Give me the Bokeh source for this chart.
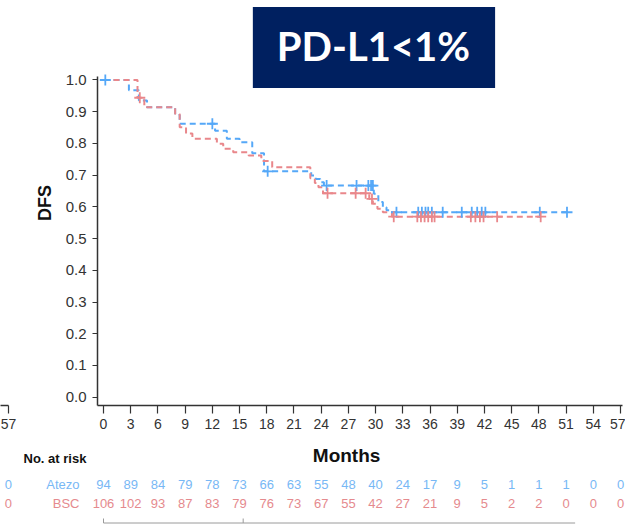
from bokeh.plotting import figure
from bokeh.layouts import column, row
from bokeh.models import Range1d, FixedTicker, PrintfTickFormatter, Label
from bokeh.core.properties import value
from bokeh.embed import file_html
from bokeh.resources import INLINE

# Kaplan-Meier step data: time of each step (months) and DFS after it
atezo_time = [0, 2.8, 3.9, 4.8, 7.9, 8.4, 12.3, 13.6, 15.0, 16.4, 17.7, 22.9, 23.4,
              23.9, 24.3, 29.8, 30.3, 30.8, 31.2, 31.8, 51.1]
atezo_surv = [1.0, 0.968, 0.935, 0.914, 0.89, 0.862, 0.84, 0.815, 0.804, 0.769, 0.712,
              0.699, 0.688, 0.678, 0.667, 0.641, 0.615, 0.599, 0.589, 0.583, 0.583]
bsc_time = [0, 3.75, 4.5, 7.9, 8.4, 9.1, 9.8, 12.5, 13.2, 14.3, 16.0, 17.4, 18.6,
            22.8, 23.3, 23.7, 24.2, 29.3, 29.7, 30.2, 30.8, 31.8, 48.2]
bsc_surv = [1.0, 0.944, 0.914, 0.893, 0.851, 0.831, 0.815, 0.799, 0.783, 0.772, 0.762,
            0.745, 0.725, 0.69, 0.675, 0.662, 0.643, 0.625, 0.61, 0.594, 0.583, 0.569, 0.569]

# censoring times
atezo_cens = [0.2, 12.0, 18.1, 24.6, 27.9, 29.2, 29.5, 29.7, 32.3, 34.7, 35.1, 35.5,
              35.8, 36.2, 37.4, 39.5, 40.6, 41.2, 41.7, 42.1, 48.1, 51.1]
bsc_cens = [4.0, 24.7, 27.8, 28.9, 29.6, 32.0, 34.6, 35.0, 35.4, 35.8, 36.2, 36.5,
            40.5, 41.0, 41.5, 41.9, 43.4, 48.2]

# number at risk table
risk_times = list(range(0, 58, 3))
atezo_risk = [94, 89, 84, 79, 78, 73, 66, 63, 55, 48, 40, 24, 17, 9, 5, 1, 1, 1, 0, 0]
bsc_risk = [106, 102, 93, 87, 83, 79, 76, 73, 67, 55, 42, 27, 21, 9, 5, 2, 2, 0, 0, 0]

y_ticks = [round(0.1 * i, 1) for i in range(11)]

BLUE = "#55A8F8"
RED = "#E9878B"
BLUE_TXT = "#78B8F5"
RED_TXT = "#E58A8E"
AXIS = "#333333"
FONT = "Liberation Sans"
PX_PER_MONTH = 9.07


def surv_at(times, survs, t):
    s = survs[0]
    for ti, si in zip(times, survs):
        if ti <= t:
            s = si
    return s


def style_xaxis(ax):
    ax.axis_line_color = AXIS
    ax.axis_line_width = 1.5
    ax.major_tick_line_color = AXIS
    ax.major_tick_line_width = 1.2
    ax.minor_tick_line_color = None
    ax.major_tick_in = 0
    ax.major_tick_out = 8
    ax.major_label_standoff = 5
    ax.major_label_text_color = AXIS
    ax.major_label_text_font = FONT
    ax.major_label_text_font_size = "14px"


# ---- main survival panel -------------------------------------------------
p = figure(width=605, height=440, output_backend="svg", toolbar_location=None,
           x_range=Range1d(-0.6615, 57.22), y_range=Range1d(-0.0262, 1.2506),
           min_border_left=77, min_border_right=3, min_border_top=0,
           min_border_bottom=35)
p.outline_line_color = None
p.grid.grid_line_color = None

p.xaxis.ticker = FixedTicker(ticks=risk_times)
style_xaxis(p.xaxis[0])
p.xaxis.bounds = (-0.6615, 57.22)

p.yaxis.ticker = FixedTicker(ticks=y_ticks)
p.yaxis.formatter = PrintfTickFormatter(format="%.1f")
p.yaxis.bounds = (-0.0262, 1.011)
p.yaxis.axis_line_color = AXIS
p.yaxis.axis_line_width = 1.5
p.yaxis.major_tick_line_color = AXIS
p.yaxis.major_tick_line_width = 1.2
p.yaxis.minor_tick_line_color = None
p.yaxis.major_tick_in = 0
p.yaxis.major_tick_out = 5
p.yaxis.major_label_standoff = 6
p.yaxis.major_label_text_color = AXIS
p.yaxis.major_label_text_font = FONT
p.yaxis.major_label_text_font_size = "15px"
p.yaxis.axis_label = "DFS"
p.yaxis.axis_label_text_font = FONT
p.yaxis.axis_label_text_font_style = "bold"
p.yaxis.axis_label_text_font_size = "18px"
p.yaxis.axis_label_text_color = "#111111"
p.yaxis.axis_label_standoff = 8

p.step(atezo_time, atezo_surv, mode="after", line_color=BLUE, line_width=2,
       line_dash="6 4")
p.step(bsc_time, bsc_surv, mode="after", line_color=RED, line_width=2,
       line_dash="6 4")
p.scatter(atezo_cens, [surv_at(atezo_time, atezo_surv, t) for t in atezo_cens],
          marker="cross", size=11, line_width=1.8, line_color=BLUE)
p.scatter(bsc_cens, [surv_at(bsc_time, bsc_surv, t) for t in bsc_cens],
          marker="cross", size=11, line_width=1.8, line_color=RED)

# subgroup banner
p.add_layout(Label(x=29.82, y=1.1025, text="PD-L1<1%", text_font="Lato",
                   text_font_style="bold", text_font_size="40px", text_color="white",
                   text_align="center", text_baseline="middle",
                   background_fill_color="#002060", padding=(24, 25, 15, 18)))

# ---- end of the neighbouring panel's time axis ----------------------------
edge_w = 20
edge_start = 57 - 8 / PX_PER_MONTH
edge = figure(width=edge_w, height=440, output_backend="svg", toolbar_location=None,
              x_range=Range1d(edge_start, edge_start + edge_w / PX_PER_MONTH),
              y_range=Range1d(0, 1), y_axis_location=None,
              min_border_left=0, min_border_right=0, min_border_top=0,
              min_border_bottom=35)
edge.outline_line_color = None
edge.grid.grid_line_color = None
edge.xaxis.ticker = FixedTicker(ticks=[57])
edge.xaxis.bounds = (edge_start - 1, 57)
style_xaxis(edge.xaxis[0])

# ---- number-at-risk table ------------------------------------------------
t = figure(width=625, height=84, output_backend="svg", toolbar_location=None,
           x_range=Range1d(-103 / PX_PER_MONTH, (625 - 103) / PX_PER_MONTH),
           y_range=Range1d(0, 84), x_axis_location=None, y_axis_location=None,
           min_border=0)
t.outline_line_color = None
t.grid.grid_line_color = None

ROW_A, ROW_B = 40, 21
t.text(x=risk_times, y=[ROW_A] * len(risk_times), text=[str(v) for v in atezo_risk],
       text_color=BLUE_TXT, text_font=value(FONT), text_font_size="13px",
       text_align="center", text_baseline="middle")
t.text(x=risk_times, y=[ROW_B] * len(risk_times), text=[str(v) for v in bsc_risk],
       text_color=RED_TXT, text_font=value(FONT), text_font_size="13px",
       text_align="center", text_baseline="middle")
t.text(x=[-2.65, -2.65], y=[ROW_A, ROW_B], text=["Atezo", "BSC"],
       text_color=[BLUE_TXT, RED_TXT], text_font=value(FONT), text_font_size="13px",
       text_align="right", text_baseline="middle")
t.text(x=[-10.5, -10.5], y=[ROW_A, ROW_B], text=["0", "0"],
       text_color=[BLUE_TXT, RED_TXT], text_font=value(FONT), text_font_size="13px",
       text_align="center", text_baseline="middle")
t.text(x=[-8.82], y=[66], text=["No. at risk"], text_color="#111111",
       text_font=value(FONT), text_font_style="bold", text_font_size="13px",
       text_align="left", text_baseline="middle")
t.text(x=[26.8], y=[69], text=["Months"], text_color="#111111",
       text_font=value(FONT), text_font_style="bold", text_font_size="19px",
       text_align="center", text_baseline="middle")

# bracket under the table
t.segment(x0=[0, 0, 15.4], y0=[1.5, 1.5, 1.5], x1=[52.0, 0, 15.4], y1=[1.5, 6, 6],
          line_color="#9A9A9A", line_width=1)

layout = column(row(edge, p, spacing=0), t, spacing=0)
open("out.html", "w").write(file_html(layout, INLINE))
